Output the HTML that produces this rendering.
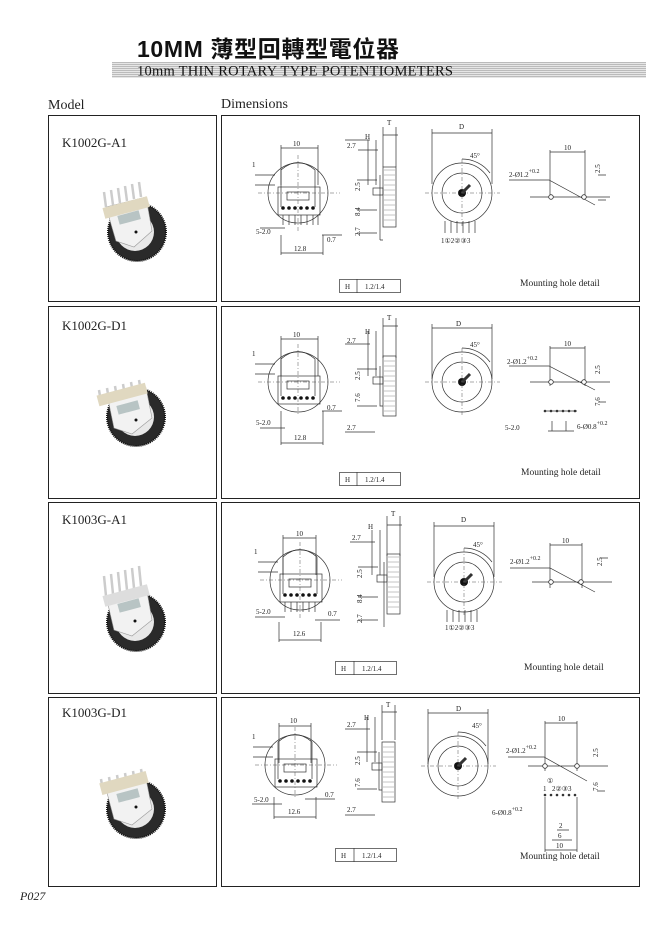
<!DOCTYPE html>
<html><head><meta charset="utf-8"><style>
html,body{margin:0;padding:0;background:#fff;}
svg{display:block;}
text{font-family:"Liberation Serif",serif;fill:#222;}
.s{font-size:7px;}
.ln{stroke:#333;stroke-width:0.7;fill:none;}
.th{stroke:#222;stroke-width:1;fill:none;}
.cl{stroke:#555;stroke-width:0.5;stroke-dasharray:4 2 1 2;fill:none;}
</style></head><body>
<svg width="670" height="944" viewBox="0 0 670 944" xmlns="http://www.w3.org/2000/svg">
<defs>
<pattern id="st" width="4" height="2" patternUnits="userSpaceOnUse"><rect width="4" height="1" fill="#bbb"/><rect y="1" width="4" height="1" fill="#e6e6e6"/></pattern>
</defs>
<text x="137" y="57" style="font-family:'Liberation Sans','Noto Sans CJK TC',sans-serif;font-weight:bold;font-size:23px;fill:#111" textLength="262">10MM 薄型回轉型電位器</text>
<rect x="112" y="62" width="534" height="16" fill="url(#st)"/>
<text x="137" y="75.5" style="font-size:14.5px;fill:#111" textLength="316">10mm THIN ROTARY TYPE POTENTIOMETERS</text>
<text x="48" y="109" style="font-size:14px">Model</text>
<text x="221" y="108" style="font-size:14px">Dimensions</text>
<text x="20" y="900" style="font-size:12px;font-style:italic">P027</text>

<g transform="translate(0,115)">
<rect x="48.5" y="0.5" width="168" height="186" class="th" stroke-width="1.5"/>
<rect x="221.5" y="0.5" width="418" height="186" class="th" stroke-width="1.5"/>
<text x="62" y="32" style="font-size:13px">K1002G-A1</text>
<circle cx="137" cy="117" r="29" fill="#2a2a2a" stroke="#111" stroke-width="2" stroke-dasharray="1 1"/>
<circle cx="135" cy="117" r="19" fill="#e8e8e8"/>
<path d="M106 92 L146 82 L152 116 L134 132 L116 126 Z" fill="#f2f2f2" stroke="#999" stroke-width="0.6"/>
<g stroke="#ccc" stroke-width="2.5"><line x1="106" y1="92" x2="104" y2="77"/><line x1="113" y1="90" x2="111" y2="75"/><line x1="120" y1="88" x2="118" y2="73"/><line x1="127" y1="86" x2="125" y2="71"/><line x1="134" y1="84" x2="132" y2="69"/><line x1="141" y1="82" x2="139" y2="67"/></g>
<rect x="103" y="87" width="46" height="11" fill="#e0d8c0" transform="rotate(-15 126 92)"/>
<rect x="118" y="98" width="22" height="9" fill="#b8c4c4" transform="rotate(-15 129 102)"/>
<circle cx="136" cy="117" r="1.5" fill="#111"/>
<circle cx="298" cy="78" r="30" class="ln"/>
<path d="M281 92 L281 55 Q298 40 315 55 L315 92" class="ln"/>
<rect x="278" y="72" width="42" height="28" class="ln"/>
<rect x="287" y="77" width="22" height="8" class="ln"/>
<g fill="#111"><circle cx="283" cy="93" r="1.8"/><circle cx="289" cy="93" r="1.8"/><circle cx="295" cy="93" r="1.8"/><circle cx="301" cy="93" r="1.8"/><circle cx="307" cy="93" r="1.8"/><circle cx="313" cy="93" r="1.8"/></g>
<path d="M283 100v10M289 100v10M295 100v10M301 100v10M307 100v10M313 100v10M318 100v10" class="ln"/>
<line x1="258" y1="78" x2="340" y2="78" class="cl"/><line x1="298" y1="40" x2="298" y2="118" class="cl"/>
<path d="M281 33h37M281 30v40M318 30v40M281 138h42M281 120v20M323 120v20M255 60h20M255 70h20M260 113h25M322 120h20" class="ln"/>
<text x="293" y="31" class="s">10</text><text x="294" y="136" class="s">12.8</text>
<text x="256" y="119" class="s">5-2.0</text><text x="327" y="127" class="s">0.7</text>
<text x="252" y="52" class="s">1</text>
<rect x="383" y="52" width="13" height="60" fill="#fff" stroke="#333" stroke-width="0.7"/>
<path d="M384 55h11M384 60h11M384 65h11M384 70h11M384 75h11M384 80h11M384 85h11M384 90h11M384 95h11M384 100h11M384 105h11" stroke="#888" stroke-width="0.5"/>
<rect x="373" y="73" width="10" height="7" class="ln"/>
<path d="M380 60v65M380 125h3M345 25h25M368 25v45M376 25v45M383 20h15M396 12v40M383 12v40M358 35h20M357 65h20M357 95h20M357 118h20" class="ln"/>
<text x="387" y="10" class="s">T</text><text x="365" y="24" class="s">H</text><text x="347" y="33" class="s">2.7</text>
<text x="360" y="76" class="s" transform="rotate(-90 360 76)">2.5</text>
<text x="360" y="101" class="s" transform="rotate(-90 360 101)">8.4</text>
<text x="360" y="121" class="s" transform="rotate(-90 360 121)">2.7</text>
<circle cx="462" cy="78" r="30" class="ln"/><circle cx="462" cy="78" r="20" class="ln"/>
<circle cx="462" cy="78" r="4" fill="#111"/><line x1="462" y1="78" x2="470" y2="70" stroke="#333" stroke-width="3"/>
<path d="M432 14v55M492 14v55M432 18h60M462 44 A35 35 0 0 1 490 58" class="ln"/>
<line x1="425" y1="78" x2="500" y2="78" class="cl"/><line x1="462" y1="44" x2="462" y2="112" class="cl"/>
<path d="M445 106v12M451 106v12M457 106v12M463 106v12M469 106v12M475 106v12" class="ln"/>
<text x="459" y="14" class="s">D</text><text x="470" y="43" class="s">45°</text>
<text x="441" y="128" class="s">1①2②③3</text>
<path d="M509 65h40L595 90M550 37h35M550 35v45M585 35v45M598 85h8M598 60h8M530 82h80" class="ln"/>
<circle cx="551" cy="82" r="2.3" fill="#fff" stroke="#333" stroke-width="0.8"/><circle cx="584" cy="82" r="2.3" fill="#fff" stroke="#333" stroke-width="0.8"/>
<text x="509" y="62" class="s">2-Ø1.2<tspan dy="-4" font-size="6">+0.2</tspan></text>
<text x="564" y="35" class="s">10</text>
<text x="600" y="58" class="s" transform="rotate(-90 600 58)">2.5</text>
<rect x="339.5" y="164.5" width="61" height="13" class="ln"/><line x1="357" y1="164" x2="357" y2="178" class="ln"/>
<text x="345" y="174" class="s">H</text><text x="365" y="174" class="s">1.2/1.4</text>
<text x="520" y="171" style="font-size:9.5px">Mounting hole detail</text>
</g>

<g transform="translate(0,306)">
<rect x="48.5" y="0.5" width="168" height="192" class="th" stroke-width="1.5"/>
<rect x="221.5" y="0.5" width="418" height="192" class="th" stroke-width="1.5"/>
<text x="62" y="24" style="font-size:13px">K1002G-D1</text>
<circle cx="136" cy="111" r="29" fill="#2a2a2a" stroke="#111" stroke-width="2" stroke-dasharray="1 1"/>
<circle cx="135" cy="111" r="19" fill="#e8e8e8"/>
<path d="M108 93 L146 82 L152 112 L132 128 L114 122 Z" fill="#f2f2f2" stroke="#999" stroke-width="0.6"/>
<g stroke="#ccc" stroke-width="2.5"><line x1="100" y1="90" x2="99" y2="84"/><line x1="108" y1="88" x2="107" y2="82"/><line x1="116" y1="86" x2="115" y2="80"/><line x1="124" y1="84" x2="123" y2="78"/><line x1="132" y1="82" x2="131" y2="76"/><line x1="140" y1="80" x2="139" y2="74"/></g>
<rect x="97" y="83" width="50" height="11" fill="#e0d8c0" transform="rotate(-15 122 88)"/>
<rect x="117" y="97" width="22" height="9" fill="#b8c4c4" transform="rotate(-15 128 101)"/>
<circle cx="136" cy="114" r="1.5" fill="#111"/>
<circle cx="298" cy="76" r="30" class="ln"/>
<path d="M281 90 L281 53 Q298 38 315 53 L315 90" class="ln"/>
<rect x="278" y="70" width="42" height="28" class="ln"/><rect x="287" y="75" width="22" height="8" class="ln"/>
<g fill="#111"><circle cx="283" cy="92" r="1.8"/><circle cx="289" cy="92" r="1.8"/><circle cx="295" cy="92" r="1.8"/><circle cx="301" cy="92" r="1.8"/><circle cx="307" cy="92" r="1.8"/><circle cx="313" cy="92" r="1.8"/></g>
<line x1="258" y1="76" x2="340" y2="76" class="cl"/><line x1="298" y1="38" x2="298" y2="110" class="cl"/>
<path d="M281 33h37M281 30v40M318 30v40M281 137h42M281 105v34M323 105v34M255 58h20M255 68h20M260 122h25M322 105h20" class="ln"/>
<text x="293" y="31" class="s">10</text><text x="294" y="134" class="s">12.8</text>
<text x="256" y="119" class="s">5-2.0</text><text x="327" y="104" class="s">0.7</text><text x="252" y="50" class="s">1</text>
<rect x="383" y="50" width="13" height="60" fill="#fff" stroke="#333" stroke-width="0.7"/>
<path d="M384 55h11M384 60h11M384 65h11M384 70h11M384 75h11M384 80h11M384 85h11M384 90h11M384 95h11M384 100h11M384 105h11" stroke="#888" stroke-width="0.5"/>
<rect x="373" y="71" width="10" height="7" class="ln"/>
<path d="M380 60v40h3M345 38h25M368 25v45M376 25v45M383 20h15M396 12v40M383 12v40M357 63h20M357 100h20M345 126h30" class="ln"/>
<text x="387" y="14" class="s">T</text><text x="365" y="28" class="s">H</text><text x="347" y="37" class="s">2.7</text><text x="347" y="124" class="s">2.7</text>
<text x="360" y="74" class="s" transform="rotate(-90 360 74)">2.5</text>
<text x="360" y="96" class="s" transform="rotate(-90 360 96)">7.6</text>
<circle cx="462" cy="76" r="30" class="ln"/><circle cx="462" cy="76" r="20" class="ln"/>
<circle cx="462" cy="76" r="4" fill="#111"/><line x1="462" y1="76" x2="470" y2="68" stroke="#333" stroke-width="3"/>
<path d="M432 18v55M492 18v55M432 22h60M462 42 A35 35 0 0 1 490 56" class="ln"/>
<line x1="425" y1="76" x2="500" y2="76" class="cl"/><line x1="462" y1="42" x2="462" y2="110" class="cl"/>
<text x="456" y="20" class="s">D</text><text x="470" y="41" class="s">45°</text>
<path d="M509 60h40L595 84M550 42h35M550 40v40M585 40v40M598 96h8M598 76h8M530 76h80M545 105h32M552 115v10M566 115v10M548 125h26" class="ln"/>
<circle cx="551" cy="76" r="2.3" fill="#fff" stroke="#333" stroke-width="0.8"/><circle cx="584" cy="76" r="2.3" fill="#fff" stroke="#333" stroke-width="0.8"/>
<g fill="#333"><circle cx="545" cy="105" r="1.3"/><circle cx="551" cy="105" r="1.3"/><circle cx="557" cy="105" r="1.3"/><circle cx="563" cy="105" r="1.3"/><circle cx="569" cy="105" r="1.3"/><circle cx="575" cy="105" r="1.3"/></g>
<text x="507" y="58" class="s">2-Ø1.2<tspan dy="-4" font-size="6">+0.2</tspan></text>
<text x="564" y="40" class="s">10</text>
<text x="600" y="68" class="s" transform="rotate(-90 600 68)">2.5</text>
<text x="600" y="100" class="s" transform="rotate(-90 600 100)">7.6</text>
<text x="577" y="123" class="s">6-Ø0.8<tspan dy="-4" font-size="6">+0.2</tspan></text>
<text x="505" y="124" class="s">5-2.0</text>
<rect x="339.5" y="166.5" width="61" height="13" class="ln"/><line x1="357" y1="166" x2="357" y2="180" class="ln"/>
<text x="345" y="176" class="s">H</text><text x="365" y="176" class="s">1.2/1.4</text>
<text x="521" y="169" style="font-size:9.5px">Mounting hole detail</text>
</g>

<g transform="translate(0,502)">
<rect x="48.5" y="0.5" width="168" height="191" class="th" stroke-width="1.5"/>
<rect x="221.5" y="0.5" width="418" height="191" class="th" stroke-width="1.5"/>
<text x="62" y="22" style="font-size:13px">K1003G-A1</text>
<circle cx="136" cy="120" r="29" fill="#2a2a2a" stroke="#111" stroke-width="2" stroke-dasharray="1 1"/>
<circle cx="135" cy="120" r="19" fill="#e8e8e8"/>
<path d="M106 94 L146 84 L152 118 L132 134 L114 128 Z" fill="#f2f2f2" stroke="#999" stroke-width="0.6"/>
<g stroke="#ccc" stroke-width="2.5"><line x1="106" y1="94" x2="104" y2="74"/><line x1="113" y1="92" x2="111" y2="72"/><line x1="120" y1="90" x2="118" y2="70"/><line x1="127" y1="88" x2="125" y2="68"/><line x1="134" y1="86" x2="132" y2="66"/><line x1="141" y1="84" x2="139" y2="64"/></g>
<rect x="103" y="88" width="46" height="11" fill="#ddd" transform="rotate(-15 126 93)"/>
<rect x="118" y="99" width="22" height="9" fill="#b8c4c4" transform="rotate(-15 129 103)"/>
<circle cx="135" cy="119" r="1.5" fill="#111"/>
<circle cx="300" cy="78" r="30" class="ln"/>
<path d="M283 92 L283 55 Q300 40 317 55 L317 92" class="ln"/>
<rect x="280" y="72" width="42" height="28" class="ln"/><rect x="289" y="77" width="22" height="8" class="ln"/>
<g fill="#111"><circle cx="285" cy="93" r="1.8"/><circle cx="291" cy="93" r="1.8"/><circle cx="297" cy="93" r="1.8"/><circle cx="303" cy="93" r="1.8"/><circle cx="309" cy="93" r="1.8"/><circle cx="315" cy="93" r="1.8"/></g>
<path d="M285 100v10M291 100v10M297 100v10M303 100v10M309 100v10M315 100v10" class="ln"/>
<line x1="260" y1="78" x2="342" y2="78" class="cl"/><line x1="300" y1="40" x2="300" y2="118" class="cl"/>
<path d="M283 36h33M283 33v40M316 33v40M279 138h42M279 120v20M321 120v20M258 60h20M258 70h20M255 115h30M315 118h25" class="ln"/>
<text x="296" y="34" class="s">10</text><text x="293" y="134" class="s">12.6</text>
<text x="256" y="112" class="s">5-2.0</text><text x="328" y="114" class="s">0.7</text><text x="254" y="52" class="s">1</text>
<rect x="387" y="52" width="13" height="60" fill="#fff" stroke="#333" stroke-width="0.7"/>
<path d="M388 55h11M388 60h11M388 65h11M388 70h11M388 75h11M388 80h11M388 85h11M388 90h11M388 95h11M388 100h11M388 105h11" stroke="#888" stroke-width="0.5"/>
<rect x="377" y="73" width="10" height="7" class="ln"/>
<path d="M384 60v65M350 40h25M372 28v45M380 28v45M387 23h15M400 14v40M387 14v40M358 65h20M358 95h20M358 118h20" class="ln"/>
<text x="391" y="14" class="s">T</text><text x="368" y="27" class="s">H</text><text x="352" y="38" class="s">2.7</text>
<text x="362" y="76" class="s" transform="rotate(-90 362 76)">2.5</text>
<text x="362" y="101" class="s" transform="rotate(-90 362 101)">8.4</text>
<text x="362" y="121" class="s" transform="rotate(-90 362 121)">2.7</text>
<circle cx="464" cy="80" r="30" class="ln"/><circle cx="464" cy="80" r="20" class="ln"/>
<circle cx="464" cy="80" r="4" fill="#111"/><line x1="464" y1="80" x2="472" y2="72" stroke="#333" stroke-width="3"/>
<path d="M434 20v55M494 20v55M434 24h60M464 46 A35 35 0 0 1 492 60" class="ln"/>
<line x1="427" y1="80" x2="502" y2="80" class="cl"/><line x1="464" y1="46" x2="464" y2="114" class="cl"/>
<path d="M447 108v12M453 108v12M459 108v12M465 108v12M471 108v12M477 108v12" class="ln"/>
<text x="461" y="20" class="s">D</text><text x="473" y="45" class="s">45°</text>
<text x="445" y="128" class="s">1①2②③3</text>
<path d="M510 66h40L595 90M550 43h32M550 41v45M582 41v45M600 80h8M600 56h8M532 80h80" class="ln"/>
<circle cx="551" cy="80" r="2.3" fill="#fff" stroke="#333" stroke-width="0.8"/><circle cx="581" cy="80" r="2.3" fill="#fff" stroke="#333" stroke-width="0.8"/>
<text x="510" y="62" class="s">2-Ø1.2<tspan dy="-4" font-size="6">+0.2</tspan></text>
<text x="562" y="41" class="s">10</text>
<text x="602" y="64" class="s" transform="rotate(-90 602 64)">2.5</text>
<rect x="335.5" y="159.5" width="61" height="13" class="ln"/><line x1="354" y1="159" x2="354" y2="173" class="ln"/>
<text x="341" y="169" class="s">H</text><text x="362" y="169" class="s">1.2/1.4</text>
<text x="524" y="168" style="font-size:9.5px">Mounting hole detail</text>
</g>

<g transform="translate(0,697)">
<rect x="48.5" y="0.5" width="168" height="189" class="th" stroke-width="1.5"/>
<rect x="221.5" y="0.5" width="418" height="189" class="th" stroke-width="1.5"/>
<text x="62" y="20" style="font-size:13px">K1003G-D1</text>
<circle cx="136" cy="112" r="29" fill="#2a2a2a" stroke="#111" stroke-width="2" stroke-dasharray="1 1"/>
<circle cx="135" cy="112" r="19" fill="#e8e8e8"/>
<path d="M106 92 L146 82 L152 112 L132 128 L114 122 Z" fill="#f2f2f2" stroke="#999" stroke-width="0.6"/>
<g stroke="#ccc" stroke-width="2.5"><line x1="102" y1="88" x2="101" y2="82"/><line x1="110" y1="86" x2="109" y2="80"/><line x1="118" y1="84" x2="117" y2="78"/><line x1="126" y1="82" x2="125" y2="76"/><line x1="134" y1="80" x2="133" y2="74"/><line x1="142" y1="78" x2="141" y2="72"/></g>
<rect x="100" y="80" width="48" height="12" fill="#e0d8c0" transform="rotate(-15 124 86)"/>
<rect x="117" y="94" width="22" height="9" fill="#b8c4c4" transform="rotate(-15 128 98)"/>
<circle cx="136" cy="110" r="1.5" fill="#111"/>
<circle cx="295" cy="68" r="30" class="ln"/>
<path d="M278 82 L278 45 Q295 30 312 45 L312 82" class="ln"/>
<rect x="275" y="62" width="42" height="28" class="ln"/><rect x="284" y="67" width="22" height="8" class="ln"/>
<g fill="#111"><circle cx="280" cy="84" r="1.8"/><circle cx="286" cy="84" r="1.8"/><circle cx="292" cy="84" r="1.8"/><circle cx="298" cy="84" r="1.8"/><circle cx="304" cy="84" r="1.8"/><circle cx="310" cy="84" r="1.8"/></g>
<line x1="255" y1="68" x2="337" y2="68" class="cl"/><line x1="295" y1="30" x2="295" y2="102" class="cl"/>
<path d="M279 29h32M279 26v40M311 26v40M274 120h42M274 100v22M316 100v22M253 50h20M253 60h20M252 107h30M305 102h30" class="ln"/>
<text x="290" y="26" class="s">10</text><text x="288" y="117" class="s">12.6</text>
<text x="254" y="105" class="s">5-2.0</text><text x="325" y="100" class="s">0.7</text><text x="252" y="42" class="s">1</text>
<rect x="382" y="45" width="13" height="60" fill="#fff" stroke="#333" stroke-width="0.7"/>
<path d="M383 50h11M383 55h11M383 60h11M383 65h11M383 70h11M383 75h11M383 80h11M383 85h11M383 90h11M383 95h11M383 100h11" stroke="#888" stroke-width="0.5"/>
<rect x="372" y="66" width="10" height="7" class="ln"/>
<path d="M379 55v38h3M345 32h25M367 20v45M375 20v45M382 15h15M395 8v35M382 8v35M357 55h20M357 92h20M345 118h30" class="ln"/>
<text x="386" y="10" class="s">T</text><text x="364" y="23" class="s">H</text><text x="347" y="30" class="s">2.7</text><text x="347" y="115" class="s">2.7</text>
<text x="360" y="68" class="s" transform="rotate(-90 360 68)">2.5</text>
<text x="360" y="90" class="s" transform="rotate(-90 360 90)">7.6</text>
<circle cx="458" cy="69" r="30" class="ln"/><circle cx="458" cy="69" r="20" class="ln"/>
<circle cx="458" cy="69" r="4" fill="#111"/><line x1="458" y1="69" x2="466" y2="61" stroke="#333" stroke-width="3"/>
<path d="M428 12v55M488 12v55M428 16h60M458 35 A35 35 0 0 1 486 49" class="ln"/>
<line x1="421" y1="69" x2="496" y2="69" class="cl"/><line x1="458" y1="35" x2="458" y2="103" class="cl"/>
<text x="456" y="14" class="s">D</text><text x="472" y="31" class="s">45°</text>
<path d="M508 60h36L587 84M545 26h32M545 24v50M577 24v50M597 94h8M597 69h8M528 69h80M545 100v55M577 100v55M545 153h32M552 143h20M557 133h12" class="ln"/>
<circle cx="545" cy="69" r="2.3" fill="#fff" stroke="#333" stroke-width="0.8"/><circle cx="577" cy="69" r="2.3" fill="#fff" stroke="#333" stroke-width="0.8"/>
<g fill="#333"><circle cx="545" cy="98" r="1.3"/><circle cx="551" cy="98" r="1.3"/><circle cx="557" cy="98" r="1.3"/><circle cx="563" cy="98" r="1.3"/><circle cx="569" cy="98" r="1.3"/><circle cx="575" cy="98" r="1.3"/></g>
<text x="543" y="94" class="s">1</text><text x="547" y="86" class="s">①</text><text x="552" y="94" class="s">2②③3</text>
<text x="506" y="56" class="s">2-Ø1.2<tspan dy="-4" font-size="6">+0.2</tspan></text>
<text x="558" y="24" class="s">10</text>
<text x="598" y="60" class="s" transform="rotate(-90 598 60)">2.5</text>
<text x="598" y="94" class="s" transform="rotate(-90 598 94)">7.6</text>
<text x="492" y="118" class="s">6-Ø0.8<tspan dy="-4" font-size="6">+0.2</tspan></text>
<text x="559" y="131" class="s">2</text><text x="558" y="141" class="s">6</text><text x="556" y="151" class="s">10</text>
<rect x="335.5" y="151.5" width="61" height="13" class="ln"/><line x1="354" y1="151" x2="354" y2="165" class="ln"/>
<text x="341" y="161" class="s">H</text><text x="362" y="161" class="s">1.2/1.4</text>
<text x="520" y="162" style="font-size:9.5px">Mounting hole detail</text>
</g>
</svg>
</body></html>
